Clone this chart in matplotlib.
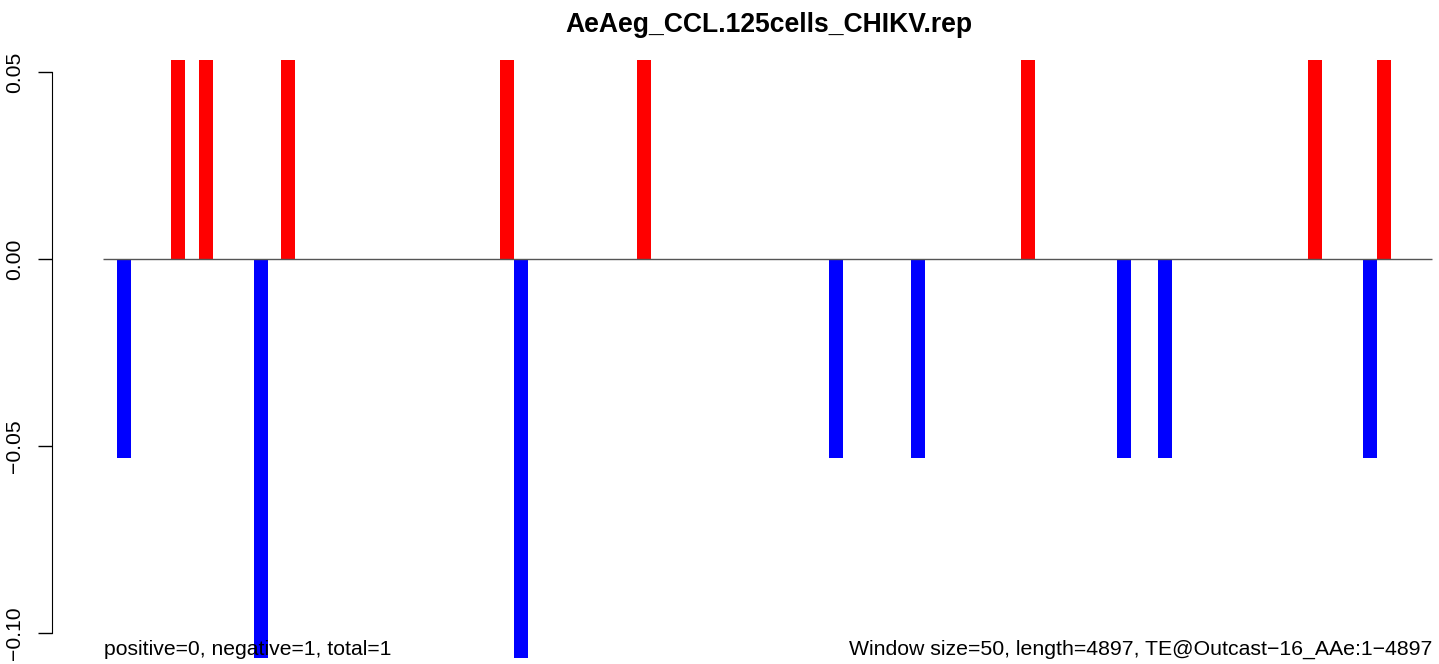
import numpy as np
import matplotlib
matplotlib.use("Agg")
import matplotlib.pyplot as plt

plt.rcParams['font.family'] = ['Liberation Sans', 'DejaVu Sans']

# window index (50 bp windows) and signal per window
windows = [1, 5, 7, 11, 13, 29, 30, 39, 53, 59, 67, 74, 77, 88, 92, 93]
values = [-0.0533, 0.0533, 0.0533, -0.1067, 0.0533, 0.0533, -0.1067, 0.0533,
          -0.0533, -0.0533, 0.0533, -0.0533, -0.0533, 0.0533, -0.0533, 0.0533]
n_windows = 97
yticks = [-0.10, -0.05, 0.00, 0.05]

title = "AeAeg_CCL.125cells_CHIKV.rep"
left_note = "positive=0, negative=1, total=1"
right_note = "Window size=50, length=4897, TE@Outcast\u221216_AAe:1\u22124897"

W, H = 1439, 664
fig = plt.figure(figsize=(W / 100, H / 100), dpi=100)
ax = fig.add_axes([52 / W, 0, (W - 52) / W, 1])

x = np.array(windows) + 0.5
v = np.array(values)
cols = np.where(v > 0, 'red', 'blue')
ax.bar(x, v, width=1.02, color=cols, linewidth=0, antialiased=False, zorder=2)
ax.hlines(0, 0, n_windows, color='#555555', lw=1, zorder=3)

px = 13.7  # pixels per window
ax.set_xlim((52 - 103) / px, (W - 103) / px)
ax.set_ylim(-(H - 259) / 3740, 259 / 3740)

for s in ['top', 'right', 'bottom']:
    ax.spines[s].set_visible(False)
ax.spines['left'].set_bounds(-0.10, 0.05)
ax.set_xticks([])
ax.set_yticks(yticks)
ax.set_yticklabels(['\u22120.10', '\u22120.05', '0.00', '0.05'])
ax.tick_params(axis='y', length=10, width=1, pad=10, labelsize=15.2)
plt.setp(ax.get_yticklabels(), rotation=90, va='center')
ax.patch.set_visible(False)

fig.text(768.5 / W, 1 - 25 / H, title, ha='center', va='center',
         fontsize=19.1, fontweight='bold')
fig.text(104 / W, 9 / H, left_note, ha='left', va='baseline', fontsize=15.2, zorder=5)
fig.text(1432 / W, 9 / H, right_note, ha='right', va='baseline', fontsize=15.3, zorder=5)

fig.savefig("out.png", dpi=100)
